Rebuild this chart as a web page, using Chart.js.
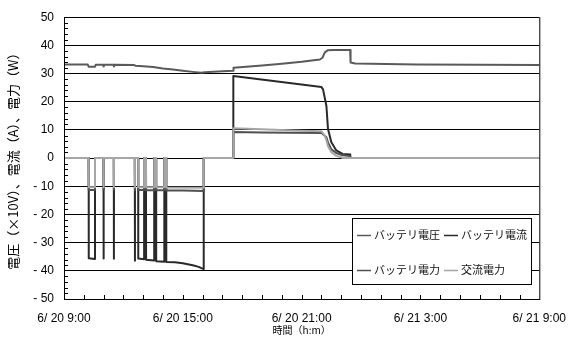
<!DOCTYPE html>
<html>
<head>
<meta charset="utf-8">
<script src="https://cdn.jsdelivr.net/npm/chart.js@4"></script>
<style>
  html, body { margin: 0; padding: 0; background: #fff; }
  #wrap { width: 578px; height: 338px; }
</style>
</head>
<body>
<div id="wrap"><canvas id="chart" width="578" height="338"></canvas></div>
<script>
// hours since 6/20 9:00
var xTickLabels = ["6/ 20 9:00", "6/ 20 15:00", "6/ 20 21:00", "6/ 21 3:00", "6/ 21 9:00"];
var seriesNames = ["バッテリ電圧", "バッテリ電流", "バッテリ電力", "交流電力"];

// battery voltage (x10V)
var voltTimes = [0, 1.2, 1.25, 1.56, 1.6, 1.98, 2.0, 2.04, 2.5, 2.52, 2.56, 3.55, 3.6, 4.0, 4.5, 5.0, 5.5, 6.0, 6.5, 6.95, 7.1, 8.0, 8.54, 8.56, 10.0, 11.0, 12.0, 12.92, 13.05, 13.17, 13.33, 13.6, 14.45, 14.47, 14.7, 15.5, 17.8, 21.0, 24.0];
var voltValues = [33.2, 33.2, 32.4, 32.4, 33.1, 33.1, 32.5, 33.1, 33.1, 32.5, 33.1, 33.0, 32.8, 32.6, 32.3, 31.8, 31.4, 31.0, 30.6, 30.3, 30.5, 30.8, 31.0, 32.1, 32.9, 33.5, 34.2, 35.0, 35.6, 37.5, 38.3, 38.4, 38.4, 33.9, 33.6, 33.5, 33.2, 33.1, 33.0];

// battery current (A)
var currTimes = [0, 1.245, 1.25, 1.56, 1.565, 1.995, 2.0, 2.005, 2.515, 2.52, 2.525, 3.575, 3.58, 3.585, 3.745, 3.75, 4.04, 4.045, 4.14, 4.145, 4.55, 4.555, 4.65, 4.655, 5.06, 5.065, 5.16, 5.165, 5.6, 6.0, 6.5, 6.8, 7.05, 7.055, 8.545, 8.55, 13.0, 13.08, 13.25, 13.33, 13.5, 13.75, 14.07, 14.45, 14.455, 24];
var currValues = [0, 0, -35.5, -35.8, 0, 0, -35.6, 0, 0, -35.7, 0, 0, -36.4, 0, 0, -35.6, -35.9, 0, 0, -36.1, -36.3, 0, 0, -36.6, -36.8, 0, 0, -36.9, -37.0, -37.3, -38.0, -38.6, -39.4, 0, 0, 29.1, 25.2, 24.4, 18.5, 10.3, 5.6, 2.7, 1.5, 1.3, 0, 0];

// battery power (W)
var powTimes = [0, 1.245, 1.25, 1.56, 1.565, 1.995, 2.0, 2.005, 2.515, 2.52, 2.525, 3.575, 3.58, 3.585, 3.745, 3.75, 4.04, 4.045, 4.14, 4.145, 4.55, 4.555, 4.65, 4.655, 5.06, 5.065, 5.16, 5.165, 6.0, 7.05, 7.055, 8.545, 8.55, 10.0, 13.0, 13.25, 13.33, 13.5, 13.75, 14.07, 14.45, 14.455, 24];
var powValues = [0, 0, -11.3, -11.3, 0, 0, -11.2, 0, 0, -11.2, 0, 0, -11.3, 0, 0, -11.3, -11.3, 0, 0, -11.4, -11.4, 0, 0, -11.4, -11.4, 0, 0, -11.5, -11.5, -11.7, 0, 0, 9.3, 9.1, 8.9, 7.4, 5.6, 3.1, 1.8, 1.0, 0.7, 0, 0];

// AC power (W)
var acTimes = [0, 1.245, 1.25, 1.56, 1.565, 1.995, 2.0, 2.005, 2.515, 2.52, 2.525, 3.575, 3.58, 3.585, 3.745, 3.75, 4.04, 4.045, 4.14, 4.145, 4.55, 4.555, 4.65, 4.655, 5.06, 5.065, 5.16, 5.165, 7.05, 7.055, 8.545, 8.55, 10.0, 12.0, 13.0, 13.17, 13.25, 13.33, 13.5, 13.75, 14.0, 14.1, 24];
var acValues = [0, 0, -10.3, -10.3, 0, 0, -10.3, 0, 0, -10.3, 0, 0, -10.3, 0, 0, -10.3, -10.3, 0, 0, -10.3, -10.3, 0, 0, -10.3, -10.3, 0, 0, -10.4, -10.5, 0, 0, 10.6, 10.2, 9.7, 9.5, 8.0, 6.3, 4.3, 2.1, 0.8, 0.3, 0, 0];

var lineColors = ["#5a5a5a", "#2a2a2a", "#505050", "#a6a6a6"];

function toPoints(times, values) {
    return times.map(function (t, i) { return { x: t, y: values[i] }; });
}

var numFont = "'Liberation Sans', Arial, sans-serif";
var jpFont = "'Noto Sans CJK JP', sans-serif";

// frame, inner minor ticks and the boxed legend
var extras = {
    id: "extras",
    afterDraw: function (chart) {
        var ctx = chart.ctx;
        var a = chart.chartArea;
        var xs = chart.scales.x, ys = chart.scales.y;
        ctx.save();
        ctx.strokeStyle = "#000";
        ctx.lineWidth = 1;
        ctx.beginPath();
        ctx.moveTo(a.left + 0.5, a.top);
        ctx.lineTo(a.left + 0.5, a.bottom + 1);
        ctx.moveTo(a.right + 0.5, a.top);
        ctx.lineTo(a.right + 0.5, a.bottom + 1);
        // y minor ticks every 2
        for (var v = -48; v < 50; v += 2) {
            if (v % 10 === 0) continue;
            var py = Math.round(ys.getPixelForValue(v)) + 0.5;
            ctx.moveTo(a.left, py);
            ctx.lineTo(a.left + 4, py);
        }
        // x ticks every hour
        for (var h = 1; h < 24; h++) {
            var px = Math.round(xs.getPixelForValue(h)) + 0.5;
            ctx.moveTo(px, a.bottom);
            ctx.lineTo(px, a.bottom - 4);
        }
        ctx.stroke();

        // legend box
        var bx = 352.5, by = 218.5, bw = 179, bh = 66;
        ctx.fillStyle = "#fff";
        ctx.fillRect(bx, by, bw, bh);
        ctx.strokeRect(bx, by, bw, bh);
        var cols = [357, 444], rows = [235, 270];
        ctx.font = "11px " + jpFont;
        ctx.textBaseline = "middle";
        ctx.textAlign = "left";
        seriesNames.forEach(function (name, i) {
            var lx = cols[i % 2], ly = rows[Math.floor(i / 2)];
            ctx.strokeStyle = lineColors[i];
            ctx.lineWidth = 1.5;
            ctx.beginPath();
            ctx.moveTo(lx, ly + 0.5);
            ctx.lineTo(lx + 14, ly + 0.5);
            ctx.stroke();
            ctx.fillStyle = "#111";
            ctx.fillText(name, lx + 17, ly);
        });
        ctx.restore();
    }
};

var seriesData = [
    toPoints(voltTimes, voltValues),
    toPoints(currTimes, currValues),
    toPoints(powTimes, powValues),
    toPoints(acTimes, acValues)
];

new Chart(document.getElementById("chart"), {
    type: "line",
    data: {
        datasets: seriesNames.map(function (name, i) {
            return {
                label: name,
                data: seriesData[i],
                borderColor: lineColors[i],
                borderWidth: 2,
                borderJoinStyle: "round",
                pointRadius: 0,
                tension: 0,
                fill: false,
                order: 3 - i  // AC power drawn on top
            };
        })
    },
    options: {
        responsive: false,
        animation: false,
        devicePixelRatio: 1,
        layout: { padding: { top: 14, right: 29, left: 0, bottom: 0 } },
        plugins: {
            legend: { display: false },
            tooltip: { enabled: false }
        },
        scales: {
            x: {
                type: "linear",
                min: 0,
                max: 24,
                afterFit: function (s) { s.height = 39; },
                ticks: {
                    stepSize: 6,
                    maxRotation: 0,
                    autoSkip: false,
                    padding: 12,
                    color: "#000",
                    font: { family: numFont, size: 12 },
                    callback: function (v, i) { return xTickLabels[i]; }
                },
                grid: { display: false, drawTicks: false },
                border: { display: true, color: "#000", width: 1 },
                title: {
                    display: true,
                    text: "時間（h:m）",
                    color: "#000",
                    font: { family: jpFont, size: 10 },
                    padding: { top: 0, bottom: 2 }
                }
            },
            y: {
                min: -50,
                max: 50,
                afterFit: function (s) { s.width = 64; },
                ticks: {
                    stepSize: 10,
                    padding: 10,
                    color: "#000",
                    font: { family: numFont, size: 12 },
                    callback: function (v) { return v < 0 ? "- " + Math.abs(v) : String(v); }
                },
                grid: { color: "#000", lineWidth: 1, drawTicks: false },
                border: { display: true, color: "#000", width: 1 },
                title: {
                    display: true,
                    text: "電圧（×10V）、電流（A）、電力（W）",
                    color: "#000",
                    font: { family: jpFont, size: 13 },
                    padding: { top: 5, bottom: 0 }
                }
            }
        }
    },
    plugins: [extras]
});
</script>
</body>
</html>
